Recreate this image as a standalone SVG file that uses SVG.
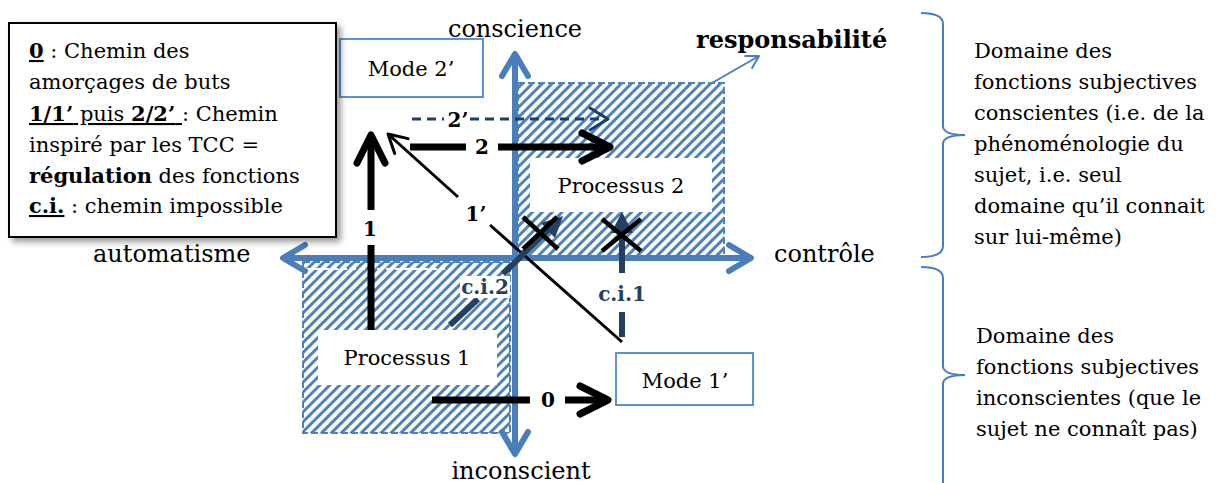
<svg xmlns="http://www.w3.org/2000/svg" width="1230" height="483" viewBox="0 0 1230 483">
<style>
text{font-family:"DejaVu Serif","Liberation Serif",serif;fill:#000}
.t22{font-size:21px}
.ax{font-size:24px}
.lbl{font-size:20px;font-weight:bold}
.ci{font-size:20px;font-weight:bold;fill:#243f60}
.axis{stroke:#4a7ebb;stroke-width:6;fill:none}
.thick{stroke:#000;stroke-width:7;fill:none}
.thin{stroke:#000;stroke-width:3;fill:none}
.dash2{stroke:#1f3d6b;stroke-width:3;fill:none;stroke-dasharray:9 6}
.cil{stroke:#243f60;stroke-width:6;fill:none}
.cross{stroke:#000;stroke-width:4.5;fill:none}
.box{fill:#fff;stroke:#5b93d3;stroke-width:2}
.hatch{fill:url(#hatch);stroke:#4f81bd;stroke-width:2;stroke-dasharray:7 3}
.brace{stroke:#4a7ebb;stroke-width:2;fill:none}
</style>
<defs>
<pattern id="hatch" patternUnits="userSpaceOnUse" width="7" height="7" patternTransform="rotate(45)">
<rect width="7" height="7" fill="#fff"/>
<rect width="3" height="7" fill="#4f81bd"/>
</pattern>
<filter id="shadow" x="-10%" y="-10%" width="130%" height="130%">
<feGaussianBlur in="SourceAlpha" stdDeviation="3"/>
<feOffset dx="4" dy="4" result="b"/>
<feComponentTransfer><feFuncA type="linear" slope="0.4"/></feComponentTransfer>
<feMerge><feMergeNode/><feMergeNode in="SourceGraphic"/></feMerge>
</filter>
<marker id="axHead" markerUnits="userSpaceOnUse" viewBox="-30 -16 34 32" markerWidth="34" markerHeight="32" refX="0" refY="0" orient="auto-start-reverse" overflow="visible">
<path d="M-22,-13 L0,0 L-22,13" stroke="#4a7ebb" stroke-width="6" fill="none" stroke-linecap="round" stroke-linejoin="round"/>
</marker>
<marker id="bigHead" markerUnits="userSpaceOnUse" viewBox="-32 -18 36 36" markerWidth="36" markerHeight="36" refX="0" refY="0" orient="auto" overflow="visible">
<path d="M-28,-14 L0,0 L-28,14" stroke="#000" stroke-width="7" fill="none" stroke-linecap="round" stroke-linejoin="round"/>
</marker>
<marker id="thinHead" markerUnits="userSpaceOnUse" viewBox="-22 -14 26 28" markerWidth="26" markerHeight="28" refX="0" refY="0" orient="auto" overflow="visible">
<path d="M-18,-10 L0,0 L-18,10" stroke="#000" stroke-width="3" fill="none" stroke-linecap="round" stroke-linejoin="round"/>
</marker>
<marker id="dashHead" markerUnits="userSpaceOnUse" viewBox="-22 -14 26 28" markerWidth="26" markerHeight="28" refX="0" refY="0" orient="auto" overflow="visible">
<path d="M-18,-11 L0,0 L-18,11" stroke="#1f3d6b" stroke-width="3" fill="none" stroke-linecap="round" stroke-linejoin="round"/>
</marker>
<marker id="blueHead" markerUnits="userSpaceOnUse" viewBox="-16 -10 18 20" markerWidth="18" markerHeight="20" refX="0" refY="0" orient="auto" overflow="visible">
<path d="M-12,-7 L0,0 L-12,7" stroke="#4a7ebb" stroke-width="2" fill="none" stroke-linecap="round" stroke-linejoin="round"/>
</marker>
</defs>
<rect width="1230" height="483" fill="#fff"/>

<g id="zone-conscient">
<rect class="hatch" x="518" y="83" width="206" height="173"/>
</g>
<g id="zone-inconscient">
<rect class="hatch" x="303" y="262" width="207" height="171"/>
<line x1="305" y1="269" x2="445" y2="269" stroke="#fff" stroke-width="2" stroke-dasharray="6 3"/>
</g>

<g id="axes">
<line class="axis" x1="515" y1="454" x2="515" y2="54" marker-start="url(#axHead)" marker-end="url(#axHead)"/>
<line class="axis" x1="283" y1="258" x2="751" y2="258" marker-start="url(#axHead)" marker-end="url(#axHead)"/>
<text class="ax" x="515" y="37" text-anchor="middle">conscience</text>
<text class="ax" x="521" y="479" text-anchor="middle">inconscient</text>
<text class="ax" x="93" y="262">automatisme</text>
<text class="ax" x="774" y="262">contrôle</text>
<text x="696" y="48" style="font-size:24px;font-weight:bold">responsabilité</text>
</g>

<g id="processus2">
<rect x="530" y="158" width="182" height="54" fill="#fff"/>
<text class="t22" x="621" y="193" text-anchor="middle">Processus 2</text>
</g>
<g id="processus1">
<rect x="318" y="330" width="179" height="55" fill="#fff"/>
<text class="t22" x="407" y="365" text-anchor="middle">Processus 1</text>
</g>
<g id="mode2">
<rect class="box" x="340" y="39" width="143" height="58"/>
<text class="t22" x="411" y="76" text-anchor="middle">Mode 2’</text>
</g>
<g id="mode1">
<rect class="box" x="616" y="353" width="137" height="52"/>
<text class="t22" x="685" y="388" text-anchor="middle">Mode 1’</text>
</g>

<g id="connectors">
<line x1="712" y1="83" x2="759" y2="56" stroke="#4a7ebb" stroke-width="2" marker-end="url(#blueHead)"/>
<line class="thick" x1="371" y1="330" x2="371" y2="245" stroke-width="6"/>
<line class="thick" x1="371" y1="210" x2="371" y2="135" stroke-width="6" marker-end="url(#bigHead)"/>
<line class="thin" x1="622" y1="342" x2="490" y2="225"/>
<line class="thin" x1="458" y1="197" x2="388" y2="134" marker-end="url(#thinHead)"/>
<line class="thick" x1="410" y1="147" x2="466" y2="147"/>
<line class="thick" x1="498" y1="147" x2="610" y2="147" marker-end="url(#bigHead)"/>
<line class="dash2" x1="412" y1="119" x2="444" y2="119"/>
<line class="dash2" x1="470" y1="119" x2="608" y2="119" marker-end="url(#dashHead)"/>
<line class="thick" x1="432" y1="400" x2="530" y2="400"/>
<line class="thick" x1="565" y1="400" x2="608" y2="400" marker-end="url(#bigHead)"/>
<line class="cil" x1="622" y1="337" x2="622" y2="312"/>
<line class="cil" x1="622" y1="273" x2="622" y2="232"/>
<path d="M622,212 L633,233 L611,233 Z" fill="#243f60"/>
<line class="cil" x1="450" y1="325" x2="478" y2="299"/>
<line class="cil" x1="503" y1="274" x2="549" y2="229"/>
<path d="M563,216 L555,238 L541,223 Z" fill="#243f60"/>
<path class="cross" d="M523,217 L558,249 M557,217 L523,249"/>
<path class="cross" d="M602,219 L641,251 M641,219 L602,251"/>
</g>

<g id="labels">
<text class="lbl" x="370" y="236" text-anchor="middle">1</text>
<text class="lbl" x="476" y="221" text-anchor="middle">1’</text>
<text class="lbl" x="482" y="154" text-anchor="middle">2</text>
<text class="lbl" x="458" y="127" text-anchor="middle">2’</text>
<text class="lbl" x="548" y="407" text-anchor="middle">0</text>
<text class="ci" x="622" y="301" text-anchor="middle">c.i.1</text>
<rect x="460" y="276" width="50" height="22" fill="#fff"/>
<text class="ci" x="485" y="294" text-anchor="middle">c.i.2</text>
</g>

<g id="legend">
<rect x="9" y="23" width="327" height="214" fill="#fff" stroke="#000" stroke-width="2" filter="url(#shadow)"/>
<text class="t22" x="29" y="58"><tspan font-weight="bold" text-decoration="underline">0</tspan> : Chemin des</text>
<text class="t22" x="29" y="89">amorçages de buts</text>
<text class="t22" x="29" y="121"><tspan text-decoration="underline"><tspan font-weight="bold">1/1’</tspan> puis <tspan font-weight="bold">2/2’</tspan> </tspan>: Chemin</text>
<text class="t22" x="29" y="152">inspiré par les TCC =</text>
<text class="t22" x="29" y="183"><tspan font-weight="bold">régulation</tspan> des fonctions</text>
<text class="t22" x="29" y="213"><tspan font-weight="bold" text-decoration="underline">c.i.</tspan> : chemin impossible</text>
</g>

<g id="domaine-conscient">
<path class="brace" d="M921,13 Q943,13 943,24 L943,126 Q943,135 965,135 Q943,135 943,144 L943,246 Q943,257 921,257"/>
<text class="t22" x="974" y="58">Domaine des</text>
<text class="t22" x="974" y="89">fonctions subjectives</text>
<text class="t22" x="974" y="120">conscientes (i.e. de la</text>
<text class="t22" x="974" y="151">phénoménologie du</text>
<text class="t22" x="974" y="182">sujet, i.e. seul</text>
<text class="t22" x="974" y="213">domaine qu’il connait</text>
<text class="t22" x="974" y="244">sur lui-même)</text>
</g>
<g id="domaine-inconscient">
<path class="brace" d="M921,267 Q943,267 943,278 L943,366 Q943,375 965,375 Q943,375 943,384 L943,490"/>
<text class="t22" x="976" y="343">Domaine des</text>
<text class="t22" x="976" y="374">fonctions subjectives</text>
<text class="t22" x="976" y="405">inconscientes (que le</text>
<text class="t22" x="976" y="436">sujet ne connaît pas)</text>
</g>
</svg>
